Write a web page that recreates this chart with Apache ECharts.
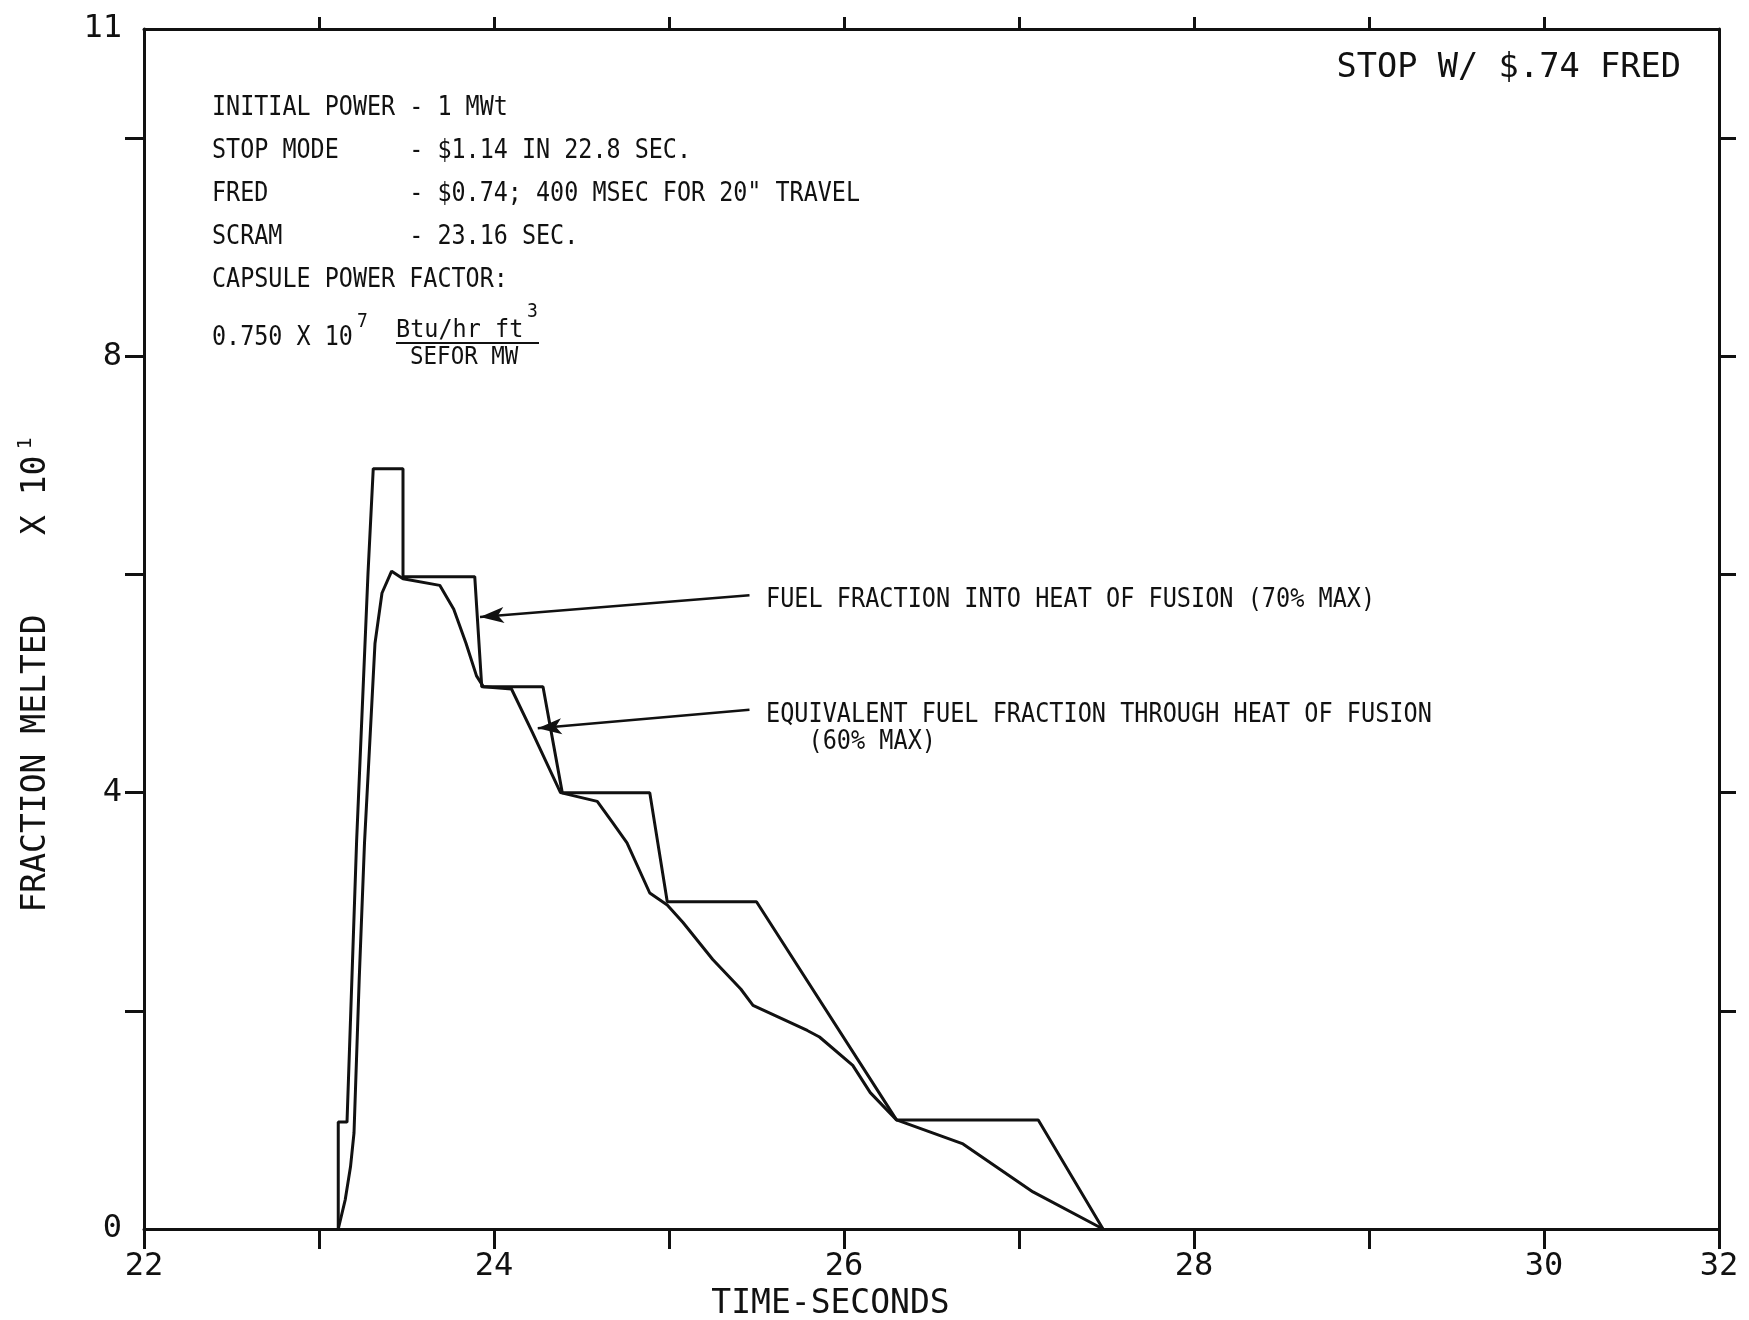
<!DOCTYPE html>
<html>
<head>
<meta charset="utf-8">
<script src="https://cdn.jsdelivr.net/npm/echarts@6/dist/echarts.min.js"></script>
<style>
  html, body { margin: 0; padding: 0; background: #fff; }
  #chart { width: 1749px; height: 1320px; }
</style>
</head>
<body>
<div id="chart"></div>
<script>
// axis ticks / labels
const xTickValues = [22, 23, 24, 25, 26, 27, 28, 29, 30, 31];
const xTopTickValues = [23, 24, 25, 26, 27, 28, 29, 30];
const xLabelValues = [22, 24, 26, 28, 30, 31];
const xLabelTexts = ["22", "24", "26", "28", "30", "32"];
const yTickValues = [2, 4, 6, 8, 10];
const yLabelValues = [0, 4, 8, 11];

// fuel fraction into heat of fusion (70% max) - stepped curve
const stepX = [23.11, 23.11, 23.16, 23.215, 23.28, 23.31, 23.48, 23.48, 23.89, 23.93, 24.28, 24.39, 24.89, 24.99, 25.50, 26.30, 27.11, 27.48];
const stepY = [0, 0.98, 0.98, 3.56, 6.01, 6.97, 6.97, 5.98, 5.98, 4.97, 4.97, 4.0, 4.0, 3.0, 3.0, 1.0, 1.0, 0];

// equivalent fuel fraction through heat of fusion (60% max)
const smoothX = [23.11, 23.15, 23.18, 23.20, 23.23, 23.26, 23.32, 23.36, 23.415, 23.48, 23.69, 23.77, 23.84, 23.90, 23.94, 24.10, 24.22, 24.38, 24.59, 24.68, 24.76, 24.89, 24.99, 25.08, 25.25, 25.41, 25.48, 25.79, 25.86, 26.05, 26.15, 26.30, 26.68, 27.08, 27.48];
const smoothY = [0, 0.27, 0.57, 0.88, 2.3, 3.54, 5.37, 5.83, 6.03, 5.96, 5.90, 5.68, 5.37, 5.07, 4.97, 4.95, 4.55, 4.0, 3.92, 3.72, 3.54, 3.08, 2.97, 2.81, 2.47, 2.20, 2.05, 1.82, 1.76, 1.50, 1.25, 1.0, 0.78, 0.34, 0];

// arrows [startX, startY, tipX, tipY]
const arrow70 = [25.46, 5.81, 23.92, 5.61];
const arrow60 = [25.46, 4.76, 24.25, 4.59];

const FONT = "DejaVu Sans Mono";
const INK = "#111";

let chart = echarts.init(document.getElementById("chart"));

function pairs(xs, ys) {
  return xs.map((x, i) => [x, ys[i]]);
}

function arrowLine(a) {
  return [{ coord: [a[0], a[1]] }, { coord: [a[2], a[3]] }];
}

// plain text element for the graphic layer
function label(text, x, y, size, scaleX, align) {
  return {
    type: "text",
    x: x,
    y: y,
    scaleX: scaleX,
    style: {
      text: text,
      font: size + "px " + FONT,
      fill: INK,
      textAlign: align || "left",
      align: align || "left",
      textVerticalAlign: "middle",
      verticalAlign: "middle",
    },
  };
}

const axisBase = {
  type: "value",
  splitLine: { show: false },
  axisLine: { show: true, onZero: false, lineStyle: { color: INK, width: 3 } },
};

chart.setOption({
  animation: false,
  backgroundColor: "#fff",
  grid: { left: 144, right: 30, top: 29, bottom: 91, containLabel: false, outerBoundsMode: "none" },
  xAxis: [
    {
      ...axisBase,
      position: "bottom",
      min: 22,
      max: 31,
      interval: 1,
      name: "TIME-SECONDS",
      nameLocation: "middle",
      nameGap: 58,
      nameTextStyle: { fontFamily: FONT, fontSize: 33, color: INK, padding: [0, 202, 0, 0] },
      axisTick: { show: true, inside: false, length: 20, customValues: xTickValues, lineStyle: { color: INK, width: 3 } },
      axisLabel: {
        show: true,
        margin: 22,
        customValues: xLabelValues,
        fontFamily: FONT,
        fontSize: 32,
        color: INK,
        formatter: (v) => {
          const i = xLabelValues.indexOf(v);
          return i >= 0 ? xLabelTexts[i] : "";
        },
      },
    },
    {
      ...axisBase,
      position: "top",
      min: 22,
      max: 31,
      interval: 1,
      axisTick: { show: true, inside: false, length: 12, customValues: xTopTickValues, lineStyle: { color: INK, width: 3 } },
      axisLabel: { show: false },
    },
  ],
  yAxis: [
    {
      ...axisBase,
      position: "left",
      min: 0,
      max: 11,
      interval: 1,
      name: "{a|FRACTION MELTED    X 10}{s|1}",
      nameLocation: "middle",
      nameGap: 88,
      nameRotate: 90,
      nameTextStyle: {
        padding: [0, 92, 0, 0],
        rich: {
          a: { fontFamily: FONT, fontSize: 33, color: INK, lineHeight: 40 },
          s: { fontFamily: FONT, fontSize: 20, color: INK, verticalAlign: "top", lineHeight: 40, padding: [0, 0, 18, 6] },
        },
      },
      axisTick: { show: true, inside: false, length: 19, customValues: yTickValues, lineStyle: { color: INK, width: 3 } },
      axisLabel: { show: true, margin: 22, padding: [8, 0, 0, 0], customValues: yLabelValues, fontFamily: FONT, fontSize: 32, color: INK },
    },
    {
      ...axisBase,
      position: "right",
      min: 0,
      max: 11,
      interval: 1,
      axisTick: { show: true, inside: false, length: 17, customValues: yTickValues, lineStyle: { color: INK, width: 3 } },
      axisLabel: { show: false },
    },
  ],
  series: [
    {
      name: "FUEL FRACTION INTO HEAT OF FUSION (70% MAX)",
      type: "line",
      data: pairs(stepX, stepY),
      showSymbol: false,
      lineStyle: { color: INK, width: 3 },
      z: 3,
      markLine: {
        silent: true,
        symbol: ["none", "arrow"],
        symbolSize: [12, 24],
        label: { show: false },
        lineStyle: { color: INK, width: 2.5, type: "solid", curveness: -0.03 },
        data: [arrowLine(arrow70), arrowLine(arrow60)],
      },
    },
    {
      name: "EQUIVALENT FUEL FRACTION THROUGH HEAT OF FUSION (60% MAX)",
      type: "line",
      data: pairs(smoothX, smoothY),
      showSymbol: false,
      lineStyle: { color: INK, width: 3 },
      z: 3,
    },
  ],
  graphic: [
    label("STOP W/ $.74 FRED", 1681, 68, 33, 1.02, "right"),
    {
      type: "text",
      x: 212,
      y: 87,
      scaleX: 0.9,
      style: {
        text: [
          "INITIAL POWER - 1 MWt",
          "STOP MODE     - $1.14 IN 22.8 SEC.",
          "FRED          - $0.74; 400 MSEC FOR 20\" TRAVEL",
          "SCRAM         - 23.16 SEC.",
          "CAPSULE POWER FACTOR:",
        ].join("\n"),
        font: "26px " + FONT,
        lineHeight: 43,
        fill: INK,
        textAlign: "left",
        textVerticalAlign: "top",
        align: "left",
        verticalAlign: "top",
      },
    },
    label("0.750 X 10", 212, 338, 26, 0.9),
    label("7", 357, 322, 20, 0.9),
    label("Btu/hr ft", 396, 330, 25, 0.94),
    label("3", 527, 312, 20, 0.9),
    {
      type: "line",
      shape: { x1: 396, y1: 343, x2: 539, y2: 343 },
      style: { stroke: INK, lineWidth: 2 },
    },
    label("SEFOR MW", 410, 357, 25, 0.9),
    label("FUEL FRACTION INTO HEAT OF FUSION (70% MAX)", 766, 600, 26, 0.905),
    label("EQUIVALENT FUEL FRACTION THROUGH HEAT OF FUSION", 766, 715, 26, 0.905),
    label("   (60% MAX)", 766, 742, 26, 0.905),
  ],
});
</script>
</body>
</html>
